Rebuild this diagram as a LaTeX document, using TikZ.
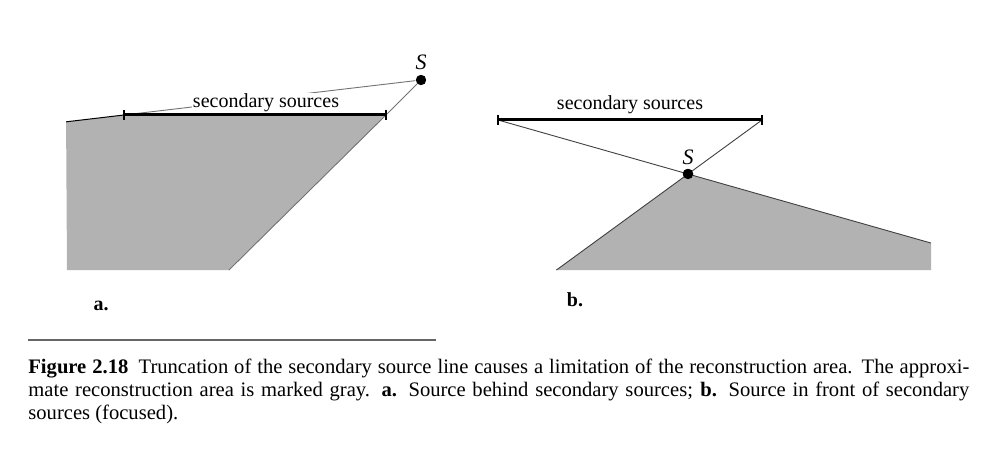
\documentclass[tikz,border=0pt]{standalone}
\usepackage{fontspec}
\setmainfont{Liberation Serif}
\usetikzlibrary{calc}

\newcommand{\capline}[1]{\makebox[470.5pt][s]{#1}}

\begin{document}
\begin{tikzpicture}[x=0.5pt,y=-0.5pt,
	area/.style={fill=black!30, draw=none},
	ray/.style={line width=0.45pt, black!55},
	bar/.style={line width=1.5pt},
	tickmark/.style={line width=1.1pt},
	source/.style={circle, fill=black, inner sep=0pt, minimum size=5.2pt},
	label/.style={font=\fontsize{10}{12}\selectfont, inner sep=1pt},
	captext/.style={anchor=base west, inner sep=0pt, font=\fontsize{10.3}{11.5}\selectfont}]
\useasboundingbox (0,0) rectangle (996,460);

	%panel a
	\coordinate (aL) at (124,115);
	\coordinate (aR) at (386,115);
	\coordinate (aB) at (229,270);
	\coordinate (aC) at (67,270);
	\node[source] (aS) at (421,80) {};
	\coordinate (aE) at ($(aS.center)!1.195!(aL)$);
	\fill[area] (aE) -- (aL) -- (aR) -- (aB) -- (aC) -- cycle;
	\draw[ray] (aS) -- (aL);
	\draw[line width=0.5pt] (aL) -- (aE);
	\draw[ray] (aS) -- (aR) -- (aB);
	\node[label, fill=white, inner sep=0.5pt] (aT) at (266,103) {secondary sources};
	\draw[bar] (aL) -- (aR);
	\draw[tickmark] ($(aL)+(0,-5)$) -- ($(aL)+(0,5)$);
	\draw[tickmark] ($(aR)+(0,-5)$) -- ($(aR)+(0,5)$);
	\node[label, font=\fontsize{11}{13}\selectfont\itshape] (aSl) at (421,62) {S};
	\node[label, font=\fontsize{10}{12}\selectfont\bfseries] (aN) at (101,306) {a.};

	%panel b
	\coordinate (bL) at (498,120);
	\coordinate (bR) at (762,120);
	\node[source] (bS) at (688,174) {};
	\coordinate (bE) at ($(bL)!2.279!(bS.center)$);
	\coordinate (bB) at ($(bR)!2.778!(bS.center)$);
	\coordinate (bC) at (931,270);
	\fill[area] (bS.center) -- (bE) -- (bC) -- (bB) -- cycle;
	\draw[ray, black!75] (bL) -- (bS.center) -- (bE);
	\draw[ray, black!75] (bR) -- (bS.center) -- (bB);
	\node[source] at (bS) {};
	\draw[bar] (bL) -- (bR);
	\draw[tickmark] ($(bL)+(0,-5)$) -- ($(bL)+(0,5)$);
	\draw[tickmark] ($(bR)+(0,-5)$) -- ($(bR)+(0,5)$);
	\node[label] (bT) at (630,105) {secondary sources};
	\node[label, font=\fontsize{11}{13}\selectfont\itshape] (bSl) at (688,157) {S};
	\node[label, font=\fontsize{10}{12}\selectfont\bfseries] (bN) at (575,300) {b.};

	%caption
	\draw[line width=1pt, black!60] (28,340) -- (436,340);
	\node[captext] (cap1) at (28,373)
		{\capline{\textbf{Figure 2.18}\enspace Truncation of the secondary source line causes a limitation of the reconstruction area. The approxi-}};
	\node[captext] (cap2) at (28,396)
		{\capline{mate reconstruction area is marked gray. \textbf{a.} Source behind secondary sources; \textbf{b.} Source in front of secondary}};
	\node[captext] (cap3) at (28,419)
		{sources (focused).};
\end{tikzpicture}
\end{document}
